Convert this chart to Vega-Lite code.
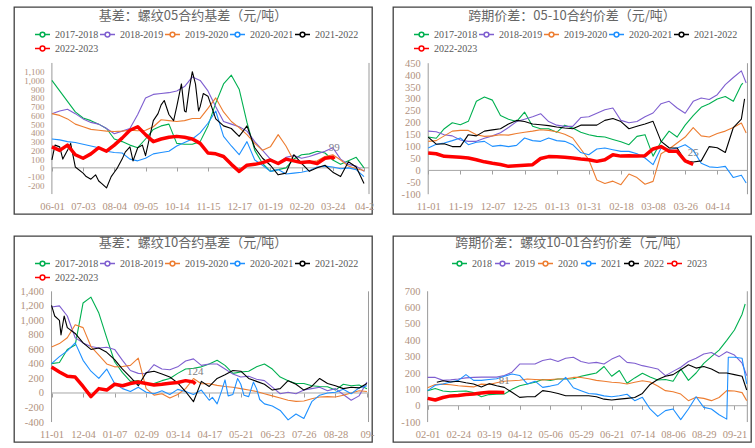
{
"$schema":"https://vega.github.io/schema/vega-lite/v6.json",
"background":"white",
"padding":{"left":13,"top":6,"right":0,"bottom":0},
"config":{
 "view":{"stroke":"#404040","strokeWidth":1.3},
 "axis":{"labelFont":"Liberation Serif","labelFontSize":10.5,"labelColor":"#b0927e","grid":false,"title":null,"domain":false,"tickColor":"#a0a0a0","labelOverlap":false,"tickCount":100},
 "title":{"font":"Noto Sans CJK SC","fontSize":13,"fontWeight":"normal","color":"#666666","anchor":"middle","frame":"group","offset":-15.5},
 "legend":{"orient":"none","legendX":20,"legendY":19,"direction":"horizontal","columns":5,"title":null,"labelFont":"Liberation Serif","labelFontSize":10,"labelColor":"#595959","symbolSize":225,"symbolStrokeWidth":1.5,"symbolFillColor":"#ffffff","columnPadding":-5,"rowPadding":-3,"labelOffset":4,
  "symbolType":"M-1,0L-0.32,0M0.32,0L1,0M-0.32,0A0.32,0.32,0,1,0,0.32,0A0.32,0.32,0,1,0,-0.32,0"}
},
"spacing":20,
"vconcat":[
{"hconcat":[
{
 "width":358,"height":207,
 "title":{"text":"基差：螺纹05合约基差（元/吨）","offset":-15.5},
 "layer":[
  {"data":{"values":[{}]},"mark":{"type":"rule","color":"#9a9a9a","strokeWidth":1},"encoding":{"x":{"datum":0,"type":"quantitative"},"y":{"datum":-300,"type":"quantitative"},"y2":{"datum":1200}}},
  {"data":{"values":[{}]},"mark":{"type":"rule","color":"#9a9a9a","strokeWidth":1},"encoding":{"x":{"datum":10.16,"type":"quantitative"},"y":{"datum":-300,"type":"quantitative"},"y2":{"datum":1200}}},
  {"data":{"values":[{}]},"mark":{"type":"rule","color":"#a6a6a6","strokeWidth":1},"encoding":{"x":{"datum":0,"type":"quantitative"},"x2":{"datum":10.16},"y":{"datum":0,"type":"quantitative"}}},
  {"data":{"values":[
   {"x":0,"2017-2018":1000,"2018-2019":620,"2019-2020":620,"2020-2021":330,"2021-2022":90,"2022-2023":240},
   {"x":0.1,"2021-2022":260},
   {"x":0.25,"2017-2018":880,"2018-2019":650,"2019-2020":600,"2020-2021":320,"2021-2022":240,"2022-2023":200},
   {"x":0.35,"2021-2022":100},
   {"x":0.5,"2017-2018":760,"2018-2019":670,"2019-2020":560,"2020-2021":300,"2021-2022":200,"2022-2023":260},
   {"x":0.6,"2021-2022":280},
   {"x":0.75,"2017-2018":640,"2018-2019":620,"2019-2020":500,"2020-2021":290,"2021-2022":10,"2022-2023":150},
   {"x":1,"2017-2018":570,"2018-2019":560,"2019-2020":470,"2020-2021":270,"2021-2022":-60,"2022-2023":110},
   {"x":1.1,"2021-2022":-100},
   {"x":1.25,"2017-2018":540,"2018-2019":520,"2019-2020":440,"2020-2021":250,"2021-2022":-130,"2022-2023":160},
   {"x":1.4,"2021-2022":-80},
   {"x":1.5,"2017-2018":500,"2018-2019":500,"2019-2020":430,"2020-2021":230,"2021-2022":-150,"2022-2023":230},
   {"x":1.6,"2021-2022":-180},
   {"x":1.75,"2017-2018":450,"2018-2019":450,"2019-2020":420,"2020-2021":190,"2021-2022":-230,"2022-2023":190},
   {"x":1.9,"2021-2022":-100},
   {"x":2,"2017-2018":330,"2018-2019":390,"2019-2020":415,"2020-2021":175,"2021-2022":-50,"2022-2023":260},
   {"x":2.1,"2021-2022":0},
   {"x":2.25,"2017-2018":300,"2018-2019":420,"2019-2020":420,"2020-2021":170,"2021-2022":100,"2022-2023":340},
   {"x":2.35,"2021-2022":180},
   {"x":2.5,"2017-2018":260,"2018-2019":450,"2019-2020":430,"2020-2021":100,"2021-2022":240,"2022-2023":430},
   {"x":2.6,"2021-2022":80},
   {"x":2.75,"2017-2018":230,"2018-2019":610,"2019-2020":425,"2020-2021":80,"2021-2022":230,"2022-2023":470},
   {"x":2.9,"2021-2022":260},
   {"x":3,"2017-2018":330,"2018-2019":800,"2019-2020":430,"2020-2021":110,"2021-2022":140,"2022-2023":380},
   {"x":3.25,"2017-2018":440,"2018-2019":840,"2019-2020":470,"2020-2021":160,"2021-2022":540,"2022-2023":300},
   {"x":3.4,"2021-2022":620},
   {"x":3.5,"2017-2018":480,"2018-2019":850,"2019-2020":550,"2020-2021":175,"2021-2022":720,"2022-2023":330},
   {"x":3.6,"2021-2022":770},
   {"x":3.75,"2017-2018":500,"2018-2019":860,"2019-2020":540,"2020-2021":190,"2021-2022":610,"2022-2023":350},
   {"x":3.9,"2021-2022":540},
   {"x":4,"2017-2018":280,"2018-2019":880,"2019-2020":530,"2020-2021":250,"2021-2022":700,"2022-2023":360},
   {"x":4.15,"2021-2022":960},
   {"x":4.25,"2017-2018":270,"2018-2019":930,"2019-2020":540,"2020-2021":290,"2021-2022":650,"2022-2023":350},
   {"x":4.3,"2021-2022":640},
   {"x":4.4,"2021-2022":900},
   {"x":4.5,"2017-2018":270,"2018-2019":1040,"2019-2020":565,"2020-2021":330,"2021-2022":1100,"2022-2023":330},
   {"x":4.6,"2021-2022":960},
   {"x":4.7,"2021-2022":650},
   {"x":4.75,"2017-2018":300,"2018-2019":1000,"2019-2020":565,"2020-2021":400,"2021-2022":700,"2022-2023":280},
   {"x":4.85,"2021-2022":850},
   {"x":5,"2017-2018":480,"2018-2019":880,"2019-2020":680,"2020-2021":510,"2021-2022":820,"2022-2023":170},
   {"x":5.25,"2017-2018":740,"2018-2019":700,"2019-2020":800,"2020-2021":650,"2021-2022":560,"2022-2023":160},
   {"x":5.5,"2017-2018":960,"2018-2019":530,"2019-2020":640,"2020-2021":360,"2021-2022":480,"2022-2023":130},
   {"x":5.75,"2017-2018":1060,"2018-2019":500,"2019-2020":530,"2020-2021":250,"2021-2022":450,"2022-2023":40},
   {"x":6,"2017-2018":900,"2018-2019":470,"2019-2020":460,"2020-2021":150,"2021-2022":360,"2022-2023":-40},
   {"x":6.25,"2017-2018":520,"2018-2019":420,"2019-2020":380,"2020-2021":300,"2021-2022":480,"2022-2023":30},
   {"x":6.5,"2017-2018":200,"2018-2019":300,"2019-2020":280,"2020-2021":90,"2021-2022":230,"2022-2023":40},
   {"x":6.75,"2017-2018":50,"2018-2019":200,"2019-2020":200,"2020-2021":30,"2021-2022":110,"2022-2023":60},
   {"x":7,"2017-2018":-40,"2018-2019":100,"2019-2020":240,"2020-2021":-40,"2021-2022":30,"2022-2023":90},
   {"x":7.25,"2017-2018":-20,"2018-2019":50,"2019-2020":380,"2020-2021":-20,"2021-2022":-80,"2022-2023":50},
   {"x":7.5,"2017-2018":0,"2018-2019":120,"2019-2020":250,"2020-2021":-70,"2021-2022":-60,"2022-2023":100},
   {"x":7.75,"2017-2018":100,"2018-2019":140,"2019-2020":80,"2020-2021":-60,"2021-2022":150,"2022-2023":80},
   {"x":8,"2017-2018":150,"2018-2019":110,"2019-2020":60,"2020-2021":-50,"2021-2022":50,"2022-2023":60},
   {"x":8.25,"2017-2018":160,"2018-2019":130,"2019-2020":70,"2020-2021":-30,"2021-2022":-40,"2022-2023":70},
   {"x":8.5,"2017-2018":190,"2018-2019":160,"2019-2020":80,"2020-2021":10,"2021-2022":0,"2022-2023":50},
   {"x":8.75,"2017-2018":170,"2018-2019":190,"2019-2020":130,"2020-2021":20,"2021-2022":30,"2022-2023":110},
   {"x":9,"2017-2018":90,"2018-2019":230,"2019-2020":150,"2020-2021":10,"2021-2022":-50,"2022-2023":120},
   {"x":9.05,"2022-2023":99},
   {"x":9.25,"2017-2018":40,"2018-2019":100,"2019-2020":90,"2020-2021":-10,"2021-2022":-100},
   {"x":9.5,"2017-2018":80,"2018-2019":40,"2019-2020":20,"2020-2021":0,"2021-2022":70},
   {"x":9.75,"2017-2018":120,"2018-2019":20,"2019-2020":-10,"2020-2021":-20,"2021-2022":10},
   {"x":10,"2017-2018":0,"2018-2019":-40,"2019-2020":-30,"2020-2021":-100,"2021-2022":-180}
  ]},
  "transform":[{"fold":["2017-2018","2018-2019","2019-2020","2020-2021","2021-2022","2022-2023"],"as":["s","v"]},{"filter":"datum.v != null"}],
  "mark":{"type":"line","strokeJoin":"round"},
  "encoding":{
   "x":{"field":"x","type":"quantitative","scale":{"domain":[-1.214,10.256],"nice":false,"zero":false},
        "axis":{"orient":"bottom","offset":-47,"values":[0,1,2,3,4,5,6,7,8,9,10],"tickCount":100,"tickSize":4,"labelPadding":30,"labelOverlap":false,
                "labelExpr":"['06-01','07-03','08-04','09-05','10-14','11-15','12-17','01-19','02-20','03-24','04-2'][datum.value]"}},
   "y":{"field":"v","type":"quantitative","scale":{"domain":[-528,1840],"nice":false,"zero":false},
        "axis":{"orient":"left","offset":-38,"ticks":false,"labelPadding":8,"labelFontSize":9,"labelOverlap":false,"tickCount":100,"labelExpr":"replace(format(datum.value, ','), '−', '-')","values":[-200,-100,0,100,200,300,400,500,600,700,800,900,1000,1100]}},
   "color":{"field":"s","type":"nominal","scale":{"domain":["2017-2018","2018-2019","2019-2020","2020-2021","2021-2022","2022-2023"],"range":["#00b050","#7f5fd0","#ed7d31","#1e90ff","#000000","#ff0000"]}},
   "strokeWidth":{"condition":{"test":"datum.s === '2022-2023'","value":3.5},"value":1.1}
  }},
  {"data":{"values":[{"x":9.05,"v":99,"t":"99"}]},"mark":{"type":"text","dy":-11,"font":"Liberation Serif","fontSize":11,"color":"#808090"},"encoding":{"x":{"field":"x","type":"quantitative"},"y":{"field":"v","type":"quantitative"},"text":{"field":"t"}}}
 ]
},
{
 "width":358,"height":207,
 "title":{"text":"跨期价差：05-10合约价差（元/吨）","offset":-15.5},
 "layer":[
  {"data":{"values":[{}]},"mark":{"type":"rule","color":"#9a9a9a","strokeWidth":1},"encoding":{"x":{"datum":0,"type":"quantitative"},"y":{"datum":-100,"type":"quantitative"},"y2":{"datum":450}}},
  {"data":{"values":[{}]},"mark":{"type":"rule","color":"#9a9a9a","strokeWidth":1},"encoding":{"x":{"datum":9.94,"type":"quantitative"},"y":{"datum":-100,"type":"quantitative"},"y2":{"datum":450}}},
  {"data":{"values":[{}]},"mark":{"type":"rule","color":"#a6a6a6","strokeWidth":1},"encoding":{"x":{"datum":0,"type":"quantitative"},"x2":{"datum":9.94},"y":{"datum":0,"type":"quantitative"}}},
  {"data":{"values":[
   {"x":0,"2017-2018":140,"2018-2019":165,"2019-2020":122,"2020-2021":94,"2021-2022":140,"2022-2023":73},
   {"x":0.25,"2017-2018":135,"2018-2019":162,"2019-2020":125,"2020-2021":110,"2021-2022":110,"2022-2023":70},
   {"x":0.5,"2017-2018":175,"2018-2019":150,"2019-2020":145,"2020-2021":115,"2021-2022":112,"2022-2023":59},
   {"x":0.75,"2017-2018":200,"2018-2019":145,"2019-2020":165,"2020-2021":125,"2021-2022":100,"2022-2023":57},
   {"x":1,"2017-2018":192,"2018-2019":128,"2019-2020":168,"2020-2021":136,"2021-2022":100,"2022-2023":55},
   {"x":1.25,"2017-2018":206,"2018-2019":122,"2019-2020":168,"2020-2021":108,"2021-2022":150,"2022-2023":52},
   {"x":1.5,"2017-2018":290,"2018-2019":122,"2019-2020":150,"2020-2021":118,"2021-2022":145,"2022-2023":45},
   {"x":1.75,"2017-2018":308,"2018-2019":135,"2019-2020":143,"2020-2021":122,"2021-2022":165,"2022-2023":36},
   {"x":2,"2017-2018":295,"2018-2019":145,"2019-2020":145,"2020-2021":101,"2021-2022":170,"2022-2023":30},
   {"x":2.25,"2017-2018":230,"2018-2019":158,"2019-2020":150,"2020-2021":105,"2021-2022":175,"2022-2023":25},
   {"x":2.5,"2017-2018":215,"2018-2019":180,"2019-2020":148,"2020-2021":100,"2021-2022":195,"2022-2023":17},
   {"x":2.75,"2017-2018":205,"2018-2019":205,"2019-2020":155,"2020-2021":105,"2021-2022":210,"2022-2023":20},
   {"x":3,"2017-2018":245,"2018-2019":215,"2019-2020":160,"2020-2021":136,"2021-2022":205,"2022-2023":22},
   {"x":3.25,"2017-2018":185,"2018-2019":225,"2019-2020":165,"2020-2021":125,"2021-2022":195,"2022-2023":24},
   {"x":3.5,"2017-2018":175,"2018-2019":238,"2019-2020":171,"2020-2021":122,"2021-2022":192,"2022-2023":50},
   {"x":3.75,"2017-2018":175,"2018-2019":205,"2019-2020":168,"2020-2021":136,"2021-2022":188,"2022-2023":58},
   {"x":4,"2017-2018":160,"2018-2019":190,"2019-2020":162,"2020-2021":125,"2021-2022":182,"2022-2023":57},
   {"x":4.25,"2017-2018":190,"2018-2019":185,"2019-2020":152,"2020-2021":122,"2021-2022":178,"2022-2023":55},
   {"x":4.5,"2017-2018":178,"2018-2019":185,"2019-2020":136,"2020-2021":108,"2021-2022":175,"2022-2023":52},
   {"x":4.75,"2017-2018":160,"2018-2019":222,"2019-2020":90,"2020-2021":75,"2021-2022":190,"2022-2023":48},
   {"x":5,"2017-2018":150,"2018-2019":225,"2019-2020":45,"2020-2021":66,"2021-2022":190,"2022-2023":45},
   {"x":5.25,"2017-2018":143,"2018-2019":240,"2019-2020":-40,"2020-2021":90,"2021-2022":190,"2022-2023":38},
   {"x":5.5,"2017-2018":140,"2018-2019":255,"2019-2020":-55,"2020-2021":94,"2021-2022":210,"2022-2023":45},
   {"x":5.75,"2017-2018":130,"2018-2019":262,"2019-2020":-45,"2020-2021":87,"2021-2022":218,"2022-2023":66},
   {"x":6,"2017-2018":120,"2018-2019":210,"2019-2020":-60,"2020-2021":80,"2021-2022":205,"2022-2023":60},
   {"x":6.25,"2017-2018":108,"2018-2019":200,"2019-2020":-15,"2020-2021":80,"2021-2022":175,"2022-2023":62},
   {"x":6.5,"2017-2018":143,"2018-2019":205,"2019-2020":-30,"2020-2021":70,"2021-2022":185,"2022-2023":60},
   {"x":6.75,"2017-2018":150,"2018-2019":225,"2019-2020":-58,"2020-2021":52,"2021-2022":195,"2022-2023":62},
   {"x":7,"2017-2018":60,"2018-2019":241,"2019-2020":-46,"2020-2021":24,"2021-2022":206,"2022-2023":90},
   {"x":7.25,"2017-2018":120,"2018-2019":280,"2019-2020":70,"2020-2021":94,"2021-2022":122,"2022-2023":100},
   {"x":7.5,"2017-2018":165,"2018-2019":290,"2019-2020":90,"2020-2021":88,"2021-2022":95,"2022-2023":80},
   {"x":7.75,"2017-2018":140,"2018-2019":262,"2019-2020":115,"2020-2021":94,"2021-2022":94,"2022-2023":80},
   {"x":8,"2017-2018":190,"2018-2019":240,"2019-2020":140,"2020-2021":108,"2021-2022":40,"2022-2023":40},
   {"x":8.25,"2017-2018":230,"2018-2019":290,"2019-2020":180,"2020-2021":85,"2021-2022":35,"2022-2023":25},
   {"x":8.5,"2017-2018":265,"2018-2019":304,"2019-2020":145,"2020-2021":30,"2021-2022":40},
   {"x":8.75,"2017-2018":280,"2018-2019":298,"2019-2020":140,"2020-2021":15,"2021-2022":100},
   {"x":9,"2017-2018":300,"2018-2019":318,"2019-2020":155,"2020-2021":12,"2021-2022":95},
   {"x":9.25,"2017-2018":310,"2018-2019":360,"2019-2020":165,"2020-2021":17,"2021-2022":75},
   {"x":9.5,"2017-2018":290,"2018-2019":390,"2019-2020":180,"2020-2021":-30,"2021-2022":180},
   {"x":9.75,"2017-2018":360,"2018-2019":418,"2019-2020":199,"2020-2021":-20,"2021-2022":215},
   {"x":9.8,"2017-2018":366},
   {"x":9.85,"2021-2022":300},
   {"x":9.9,"2018-2019":367,"2019-2020":157,"2020-2021":-53}
  ]},
  "transform":[{"fold":["2017-2018","2018-2019","2019-2020","2020-2021","2021-2022","2022-2023"],"as":["s","v"]},{"filter":"datum.v != null"}],
  "mark":{"type":"line","strokeJoin":"round"},
  "encoding":{
   "x":{"field":"x","type":"quantitative","scale":{"domain":[-1.096,10.05],"nice":false,"zero":false},
        "axis":{"orient":"bottom","offset":-44,"values":[0,1,2,3,4,5,6,7,8,9],"tickCount":100,"tickSize":4,"labelPadding":27.5,"labelOverlap":false,
                "labelExpr":"['11-01','11-19','12-07','12-25','01-13','01-31','02-18','03-08','03-26','04-14'][datum.value]"}},
   "y":{"field":"v","type":"quantitative","scale":{"domain":[-183,686],"nice":false,"zero":false},
        "axis":{"orient":"left","offset":-35.3,"ticks":false,"labelPadding":8,"labelOverlap":false,"tickCount":100,"labelExpr":"replace(format(datum.value, ','), '−', '-')","values":[-100,-50,0,50,100,150,200,250,300,350,400,450]}},
   "color":{"field":"s","type":"nominal","scale":{"domain":["2017-2018","2018-2019","2019-2020","2020-2021","2021-2022","2022-2023"],"range":["#00b050","#7f5fd0","#ed7d31","#1e90ff","#000000","#ff0000"]}},
   "strokeWidth":{"condition":{"test":"datum.s === '2022-2023'","value":3.5},"value":1.1}
  }},
  {"data":{"values":[{"x":8.25,"v":25,"t":"25"}]},"mark":{"type":"text","dy":-11,"font":"Liberation Serif","fontSize":11,"color":"#808080"},"encoding":{"x":{"field":"x","type":"quantitative"},"y":{"field":"v","type":"quantitative"},"text":{"field":"t"}}}
 ]
}
],"spacing":17,"resolve":{"scale":{"color":"independent"}}},
{"hconcat":[
{
 "width":358,"height":206,
 "title":{"text":"基差：螺纹10合约基差（元/吨）","offset":-14},
 "layer":[
  {"data":{"values":[{}]},"mark":{"type":"rule","color":"#9a9a9a","strokeWidth":1},"encoding":{"x":{"datum":0,"type":"quantitative"},"y":{"datum":-400,"type":"quantitative"},"y2":{"datum":1400}}},
  {"data":{"values":[{}]},"mark":{"type":"rule","color":"#9a9a9a","strokeWidth":1},"encoding":{"x":{"datum":10.05,"type":"quantitative"},"y":{"datum":-400,"type":"quantitative"},"y2":{"datum":1400}}},
  {"data":{"values":[{}]},"mark":{"type":"rule","color":"#a6a6a6","strokeWidth":1},"encoding":{"x":{"datum":0,"type":"quantitative"},"x2":{"datum":10.05},"y":{"datum":0,"type":"quantitative"}}},
  {"data":{"values":[
   {"x":0,"2017-2018":404,"2018-2019":1184,"2019-2020":633,"2020-2021":404,"2021-2022":1207,"2022-2023":358},
   {"x":0.1,"2021-2022":1060},
   {"x":0.25,"2017-2018":420,"2018-2019":1200,"2019-2020":680,"2020-2021":500,"2021-2022":1000,"2022-2023":290},
   {"x":0.3,"2021-2022":800},
   {"x":0.4,"2021-2022":1060},
   {"x":0.5,"2017-2018":600,"2018-2019":1060,"2019-2020":760,"2020-2021":580,"2021-2022":900,"2022-2023":230},
   {"x":0.75,"2017-2018":660,"2018-2019":760,"2019-2020":940,"2020-2021":690,"2021-2022":820,"2022-2023":220},
   {"x":1,"2017-2018":1240,"2018-2019":690,"2019-2020":900,"2020-2021":450,"2021-2022":690,"2022-2023":90},
   {"x":1.25,"2017-2018":1320,"2018-2019":640,"2019-2020":640,"2020-2021":300,"2021-2022":600,"2022-2023":-50},
   {"x":1.5,"2017-2018":1100,"2018-2019":620,"2019-2020":520,"2020-2021":200,"2021-2022":620,"2022-2023":60},
   {"x":1.75,"2017-2018":760,"2018-2019":630,"2019-2020":400,"2020-2021":330,"2021-2022":560,"2022-2023":40},
   {"x":2,"2017-2018":430,"2018-2019":600,"2019-2020":360,"2020-2021":130,"2021-2022":460,"2022-2023":120},
   {"x":2.25,"2017-2018":280,"2018-2019":450,"2019-2020":365,"2020-2021":60,"2021-2022":330,"2022-2023":100},
   {"x":2.5,"2017-2018":160,"2018-2019":310,"2019-2020":380,"2020-2021":20,"2021-2022":220,"2022-2023":130},
   {"x":2.75,"2017-2018":170,"2018-2019":270,"2019-2020":480,"2020-2021":80,"2021-2022":100,"2022-2023":150},
   {"x":3,"2017-2018":130,"2018-2019":265,"2019-2020":60,"2020-2021":10,"2021-2022":280,"2022-2023":130},
   {"x":3.25,"2017-2018":130,"2018-2019":390,"2019-2020":-30,"2020-2021":-10,"2021-2022":300,"2022-2023":110},
   {"x":3.5,"2017-2018":170,"2018-2019":330,"2019-2020":-10,"2020-2021":30,"2021-2022":260,"2022-2023":120},
   {"x":3.75,"2017-2018":200,"2018-2019":320,"2019-2020":-70,"2020-2021":-20,"2021-2022":220,"2022-2023":135},
   {"x":4,"2017-2018":270,"2018-2019":360,"2019-2020":-20,"2020-2021":50,"2021-2022":140,"2022-2023":145},
   {"x":4.25,"2017-2018":330,"2018-2019":440,"2019-2020":60,"2020-2021":20,"2021-2022":20,"2022-2023":170},
   {"x":4.5,"2017-2018":340,"2018-2019":470,"2019-2020":200,"2020-2021":-20,"2021-2022":-120,"2022-2023":150},
   {"x":4.56,"2022-2023":124},
   {"x":4.75,"2017-2018":360,"2018-2019":380,"2019-2020":128,"2020-2021":40,"2021-2022":160},
   {"x":5,"2017-2018":400,"2018-2019":400,"2019-2020":128,"2020-2021":-100,"2021-2022":90},
   {"x":5.1,"2020-2021":-60},
   {"x":5.25,"2017-2018":450,"2018-2019":400,"2019-2020":105,"2020-2021":-150,"2021-2022":200},
   {"x":5.4,"2020-2021":40},
   {"x":5.5,"2017-2018":380,"2018-2019":330,"2019-2020":90,"2020-2021":180,"2021-2022":250},
   {"x":5.6,"2020-2021":-40},
   {"x":5.75,"2017-2018":270,"2018-2019":260,"2019-2020":80,"2020-2021":-20,"2021-2022":310},
   {"x":5.9,"2020-2021":200},
   {"x":6,"2017-2018":290,"2018-2019":220,"2019-2020":60,"2020-2021":120,"2021-2022":300},
   {"x":6.1,"2020-2021":-30},
   {"x":6.25,"2017-2018":300,"2018-2019":230,"2019-2020":40,"2020-2021":-50,"2021-2022":200},
   {"x":6.4,"2020-2021":150},
   {"x":6.5,"2017-2018":360,"2018-2019":190,"2019-2020":20,"2020-2021":60,"2021-2022":160},
   {"x":6.6,"2020-2021":-90},
   {"x":6.75,"2017-2018":400,"2018-2019":170,"2019-2020":-10,"2020-2021":-150,"2021-2022":120},
   {"x":7,"2017-2018":330,"2018-2019":80,"2019-2020":-40,"2020-2021":-180,"2021-2022":40},
   {"x":7.25,"2017-2018":220,"2018-2019":-10,"2019-2020":-70,"2020-2021":-240,"2021-2022":60},
   {"x":7.5,"2017-2018":170,"2018-2019":10,"2019-2020":-100,"2020-2021":-370,"2021-2022":170},
   {"x":7.75,"2017-2018":130,"2018-2019":-10,"2019-2020":-115,"2020-2021":-290,"2021-2022":120},
   {"x":8,"2017-2018":130,"2018-2019":40,"2019-2020":-110,"2020-2021":-350,"2021-2022":40},
   {"x":8.25,"2017-2018":100,"2018-2019":60,"2019-2020":-80,"2020-2021":-120,"2021-2022":90},
   {"x":8.5,"2017-2018":90,"2018-2019":80,"2019-2020":-55,"2020-2021":-30,"2021-2022":200},
   {"x":8.75,"2017-2018":85,"2018-2019":30,"2019-2020":-50,"2020-2021":0,"2021-2022":130},
   {"x":9,"2017-2018":40,"2018-2019":60,"2019-2020":-55,"2020-2021":10,"2021-2022":100},
   {"x":9.25,"2017-2018":120,"2018-2019":-20,"2019-2020":-30,"2020-2021":50,"2021-2022":60},
   {"x":9.5,"2017-2018":100,"2018-2019":-100,"2019-2020":0,"2020-2021":-10,"2021-2022":80},
   {"x":9.75,"2017-2018":110,"2018-2019":-40,"2019-2020":30,"2020-2021":70,"2021-2022":70},
   {"x":10,"2017-2018":60,"2018-2019":150,"2019-2020":20,"2020-2021":100,"2021-2022":130}
  ]},
  "transform":[{"fold":["2017-2018","2018-2019","2019-2020","2020-2021","2021-2022","2022-2023"],"as":["s","v"]},{"filter":"datum.v != null"}],
  "mark":{"type":"line","strokeJoin":"round"},
  "encoding":{
   "x":{"field":"x","type":"quantitative","scale":{"domain":[-1.19,10.16],"nice":false,"zero":false},
        "axis":{"orient":"bottom","offset":-49,"values":[0,1,2,3,4,5,6,7,8,9,10],"tickCount":100,"tickSize":4,"labelPadding":32,"labelOverlap":false,
                "labelExpr":"['11-01','12-04','01-07','02-09','03-14','04-17','05-21','06-23','07-26','08-28','09-'][datum.value]"}},
   "y":{"field":"v","type":"quantitative","scale":{"domain":[-675,2162],"nice":false,"zero":false},
        "axis":{"orient":"left","offset":-38,"ticks":false,"labelPadding":8.5,"labelOverlap":false,"tickCount":100,"labelExpr":"replace(format(datum.value, ','), '−', '-')","values":[-400,-200,0,200,400,600,800,1000,1200,1400]}},
   "color":{"field":"s","type":"nominal","scale":{"domain":["2017-2018","2018-2019","2019-2020","2020-2021","2021-2022","2022-2023"],"range":["#00b050","#7f5fd0","#ed7d31","#1e90ff","#000000","#ff0000"]}},
   "strokeWidth":{"condition":{"test":"datum.s === '2022-2023'","value":3.5},"value":1.1}
  }},
  {"data":{"values":[{"x":4.56,"v":124,"t":"124"}]},"mark":{"type":"text","dy":-12,"font":"Liberation Serif","fontSize":11,"color":"#808080"},"encoding":{"x":{"field":"x","type":"quantitative"},"y":{"field":"v","type":"quantitative"},"text":{"field":"t"}}}
 ]
},
{
 "width":358,"height":206,
 "title":{"text":"跨期价差：螺纹10-01合约价差（元/吨）","offset":-14},
 "layer":[
  {"data":{"values":[{}]},"mark":{"type":"rule","color":"#9a9a9a","strokeWidth":1},"encoding":{"x":{"datum":0,"type":"quantitative"},"y":{"datum":-100,"type":"quantitative"},"y2":{"datum":700}}},
  {"data":{"values":[{}]},"mark":{"type":"rule","color":"#9a9a9a","strokeWidth":1},"encoding":{"x":{"datum":10.42,"type":"quantitative"},"y":{"datum":-100,"type":"quantitative"},"y2":{"datum":700}}},
  {"data":{"values":[{}]},"mark":{"type":"rule","color":"#a6a6a6","strokeWidth":1},"encoding":{"x":{"datum":0,"type":"quantitative"},"x2":{"datum":10.42},"y":{"datum":0,"type":"quantitative"}}},
  {"data":{"values":[
   {"x":0,"2018":92,"2019":173,"2020":110,"2021":92,"2023":45},
   {"x":0.25,"2018":105,"2019":173,"2020":130,"2021":125,"2023":35},
   {"x":0.3,"2022":143},
   {"x":0.5,"2018":90,"2019":155,"2020":132,"2021":133,"2022":153,"2023":50},
   {"x":0.75,"2018":85,"2019":158,"2020":128,"2021":145,"2022":145,"2023":60},
   {"x":1,"2018":88,"2019":163,"2020":122,"2021":155,"2022":150,"2023":62},
   {"x":1.25,"2018":90,"2019":170,"2020":118,"2021":190,"2022":140,"2023":68},
   {"x":1.5,"2018":80,"2019":173,"2020":115,"2021":155,"2022":133,"2023":72},
   {"x":1.75,"2018":55,"2019":175,"2020":132,"2021":155,"2022":115,"2023":78},
   {"x":2,"2018":68,"2019":175,"2020":130,"2021":160,"2022":135,"2023":82},
   {"x":2.25,"2018":70,"2019":175,"2020":140,"2021":165,"2022":122,"2023":82},
   {"x":2.5,"2018":72,"2019":185,"2020":150,"2021":180,"2022":112,"2023":81},
   {"x":2.75,"2018":100,"2019":205,"2020":153,"2021":194,"2022":82},
   {"x":3,"2018":122,"2019":255,"2020":156,"2021":185,"2022":51},
   {"x":3.25,"2018":133,"2019":255,"2020":163,"2021":133,"2022":55},
   {"x":3.5,"2018":143,"2019":255,"2020":160,"2021":150,"2022":55},
   {"x":3.75,"2018":160,"2019":276,"2020":158,"2021":112,"2022":92},
   {"x":4,"2018":155,"2019":286,"2020":160,"2021":120,"2022":85},
   {"x":4.25,"2018":163,"2019":270,"2020":163,"2021":130,"2022":75},
   {"x":4.5,"2018":163,"2019":290,"2020":165,"2021":173,"2022":61},
   {"x":4.75,"2018":165,"2019":296,"2020":173,"2021":110,"2022":61},
   {"x":5,"2018":180,"2019":270,"2020":173,"2021":92,"2022":61},
   {"x":5.25,"2018":190,"2019":260,"2020":165,"2021":75,"2022":61},
   {"x":5.5,"2018":200,"2019":265,"2020":155,"2021":71,"2022":55},
   {"x":5.75,"2018":240,"2019":255,"2020":150,"2021":60,"2022":40},
   {"x":6,"2018":180,"2019":285,"2020":143,"2021":55,"2022":35},
   {"x":6.25,"2018":215,"2019":306,"2020":140,"2021":61,"2022":40},
   {"x":6.5,"2018":137,"2019":265,"2020":133,"2021":70,"2022":45},
   {"x":6.75,"2018":170,"2019":260,"2020":143,"2021":31,"2022":50},
   {"x":7,"2018":198,"2019":245,"2020":153,"2021":51,"2022":75},
   {"x":7.25,"2018":175,"2019":235,"2020":145,"2021":-20,"2022":130},
   {"x":7.5,"2018":157,"2019":225,"2020":120,"2021":-65,"2022":160},
   {"x":7.75,"2018":160,"2019":184,"2020":92,"2021":-30,"2022":180},
   {"x":8,"2018":150,"2019":210,"2020":85,"2021":-20,"2022":190},
   {"x":8.25,"2018":225,"2019":235,"2020":71,"2021":-85,"2022":220},
   {"x":8.5,"2018":155,"2019":270,"2020":31,"2021":-20,"2022":250},
   {"x":8.75,"2018":200,"2019":290,"2020":51,"2021":55,"2022":230},
   {"x":9,"2018":259,"2019":316,"2020":45,"2021":-10,"2022":240},
   {"x":9.25,"2018":300,"2019":325,"2020":31,"2021":-20,"2022":225},
   {"x":9.5,"2018":340,"2019":300,"2020":50,"2021":-55,"2022":200},
   {"x":9.75,"2018":400,"2019":330,"2020":92,"2021":-82,"2022":200},
   {"x":9.8,"2021":296},
   {"x":10,"2018":463,"2019":310,"2020":90,"2021":296,"2022":190},
   {"x":10.25,"2018":560,"2019":260,"2020":80,"2021":290,"2022":180},
   {"x":10.35,"2018":622},
   {"x":10.4,"2019":184,"2020":31,"2021":133,"2022":96}
  ]},
  "transform":[{"fold":["2018","2019","2020","2021","2022","2023"],"as":["s","v"]},{"filter":"datum.v != null"}],
  "mark":{"type":"line","strokeJoin":"round"},
  "encoding":{
   "x":{"field":"x","type":"quantitative","scale":{"domain":[-1.128,10.54],"nice":false,"zero":false},
        "axis":{"orient":"bottom","offset":-36.7,"values":[0,1,2,3,4,5,6,7,8,9,10],"tickCount":100,"tickSize":4,"labelPadding":20,"labelOverlap":false,
                "labelExpr":"['02-01','02-24','03-19','04-12','05-06','05-29','06-21','07-14','08-06','08-29','09-21'][datum.value]"}},
   "y":{"field":"v","type":"quantitative","scale":{"domain":[-222,1038],"nice":false,"zero":false},
        "axis":{"orient":"left","offset":-34.7,"ticks":false,"labelPadding":7.7,"labelOverlap":false,"tickCount":100,"labelExpr":"replace(format(datum.value, ','), '−', '-')","values":[-100,0,100,200,300,400,500,600,700]}},
   "color":{"field":"s","type":"nominal","scale":{"domain":["2018","2019","2020","2021","2022","2023"],"range":["#00b050","#7f5fd0","#ed7d31","#1e90ff","#000000","#ff0000"]},
            "legend":{"columns":6,"legendX":58,"columnPadding":0}},
   "strokeWidth":{"condition":{"test":"datum.s === '2023'","value":3.5},"value":1.1}
  }},
  {"data":{"values":[{"x":2.5,"v":81,"t":"81"}]},"mark":{"type":"text","dy":-11,"font":"Liberation Serif","fontSize":11,"color":"#808080"},"encoding":{"x":{"field":"x","type":"quantitative"},"y":{"field":"v","type":"quantitative"},"text":{"field":"t"}}}
 ]
}
],"spacing":17,"resolve":{"scale":{"color":"independent"}}}
],
"resolve":{"scale":{"color":"independent"}}
}
